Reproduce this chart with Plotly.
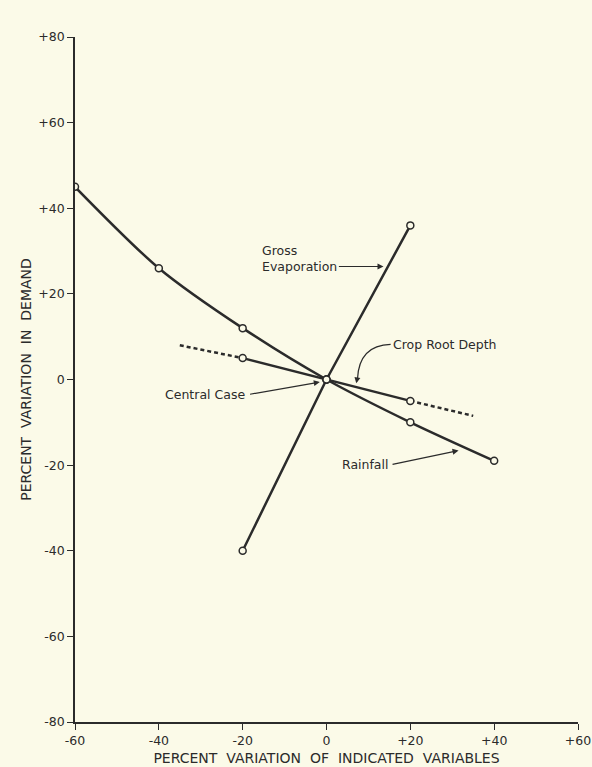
import plotly.graph_objects as go

# ---- data ----
rain_x = [-60, -40, -20, 0, 20, 40]
rain_y = [45, 26, 12, 0, -10, -19]

evap_x = [-20, 0, 20]
evap_y = [-40, 0, 36]

crop_x = [-20, 0, 20]
crop_y = [5, 0, -5]
crop_ext_left_x = [-35, -20]
crop_ext_left_y = [8, 5]
crop_ext_right_x = [20, 35]
crop_ext_right_y = [-5, -8.5]

x_ticks = [-60, -40, -20, 0, 20, 40, 60]
x_tick_text = ["-60", "-40", "-20", "0", "+20", "+40", "+60"]
y_ticks = [-80, -60, -40, -20, 0, 20, 40, 60, 80]
y_tick_text = ["-80", "-60", "-40", "-20", "0", "+20", "+40", "+60", "+80"]

BG = "#FBFAE8"
INK = "#2b2b2b"
FONT = "DejaVu Sans"
SP = "\u00a0 "

marker = dict(symbol="circle", size=7, color=BG, line=dict(color=INK, width=1.5))

fig = go.Figure()
fig.add_trace(go.Scatter(x=crop_ext_left_x, y=crop_ext_left_y, mode="lines",
                         line=dict(color=INK, width=2.5, dash="4px,3px"), showlegend=False))
fig.add_trace(go.Scatter(x=crop_ext_right_x, y=crop_ext_right_y, mode="lines",
                         line=dict(color=INK, width=2.5, dash="4px,3px"), showlegend=False))
fig.add_trace(go.Scatter(x=rain_x, y=rain_y, mode="lines+markers",
                         line=dict(color=INK, width=2.5, shape="spline", smoothing=0.8),
                         marker=marker, showlegend=False))
fig.add_trace(go.Scatter(x=evap_x, y=evap_y, mode="lines+markers",
                         line=dict(color=INK, width=2.5), marker=marker, showlegend=False))
fig.add_trace(go.Scatter(x=crop_x, y=crop_y, mode="lines+markers",
                         line=dict(color=INK, width=2.5), marker=marker, showlegend=False))

# curved leader for Crop Root Depth
fig.add_shape(type="path", path="M 15.3,8.2 Q 7.8,8.0 7.4,0.2", xref="x", yref="y",
              line=dict(color=INK, width=1.2))

ann_font = dict(family=FONT, size=12.5, color=INK)
annotations = [
    dict(x=13.6, y=26.4, ax=2.6, ay=26.4, text="", showarrow=True,
         arrowhead=2, arrowsize=1, arrowwidth=1.2, arrowcolor=INK, axref="x", ayref="y"),
    dict(x=-15.8, y=28.2, text="Gross<br>Evaporation", showarrow=False, xanchor="left",
         yanchor="middle", align="left", font=ann_font),
    dict(x=15.3, y=8.2, text="Crop Root Depth", showarrow=False, xanchor="left",
         yanchor="middle", font=ann_font),
    dict(x=7.1, y=-0.9, ax=7.4, ay=0.6, text="", showarrow=True,
         arrowhead=2, arrowsize=1, arrowwidth=1.2, arrowcolor=INK, axref="x", ayref="y"),
    dict(x=-1.6, y=-0.6, ax=-18.6, ay=-3.5, text="", showarrow=True,
         arrowhead=2, arrowsize=1, arrowwidth=1.2, arrowcolor=INK, axref="x", ayref="y"),
    dict(x=-18.9, y=-3.5, text="Central Case", showarrow=False, xanchor="right",
         yanchor="middle", font=ann_font),
    dict(x=31.5, y=-16.6, ax=15.4, ay=-19.9, text="", showarrow=True,
         arrowhead=2, arrowsize=1, arrowwidth=1.2, arrowcolor=INK, axref="x", ayref="y"),
    dict(x=15.2, y=-19.9, text="Rainfall", showarrow=False, xanchor="right",
         yanchor="middle", font=ann_font),
]

fig.update_layout(
    width=592, height=767,
    margin=dict(l=75, r=14, t=37, b=45),
    paper_bgcolor=BG, plot_bgcolor=BG,
    font=dict(family=FONT, color=INK, size=12),
    annotations=annotations,
    xaxis=dict(range=[-60, 60], tickvals=x_ticks, ticktext=x_tick_text, automargin=False,
               showgrid=False, zeroline=False, showline=True, linecolor=INK, linewidth=1.5,
               ticks="outside", ticklen=6, tickcolor=INK, tickwidth=1.2,
               ticklabeloverflow="allow",
               title=dict(text=SP.join(["PERCENT", "VARIATION", "OF", "INDICATED", "VARIABLES"]),
                          font=dict(size=14), standoff=6),
               tickfont=dict(size=12.5)),
    yaxis=dict(range=[-80, 80], tickvals=y_ticks, ticktext=y_tick_text, automargin=False,
               showgrid=False, zeroline=False, showline=True, linecolor=INK, linewidth=1.5,
               ticks="outside", ticklen=6, tickcolor=INK, tickwidth=1.2,
               title=dict(text=SP.join(["PERCENT", "VARIATION", "IN", "DEMAND"]),
                          font=dict(size=14), standoff=3),
               tickfont=dict(size=12.5)),
)

fig.write_html("out.html", config={"displayModeBar": False},
               post_script="document.body.style.margin='0';document.body.style.background='%s';" % BG)
